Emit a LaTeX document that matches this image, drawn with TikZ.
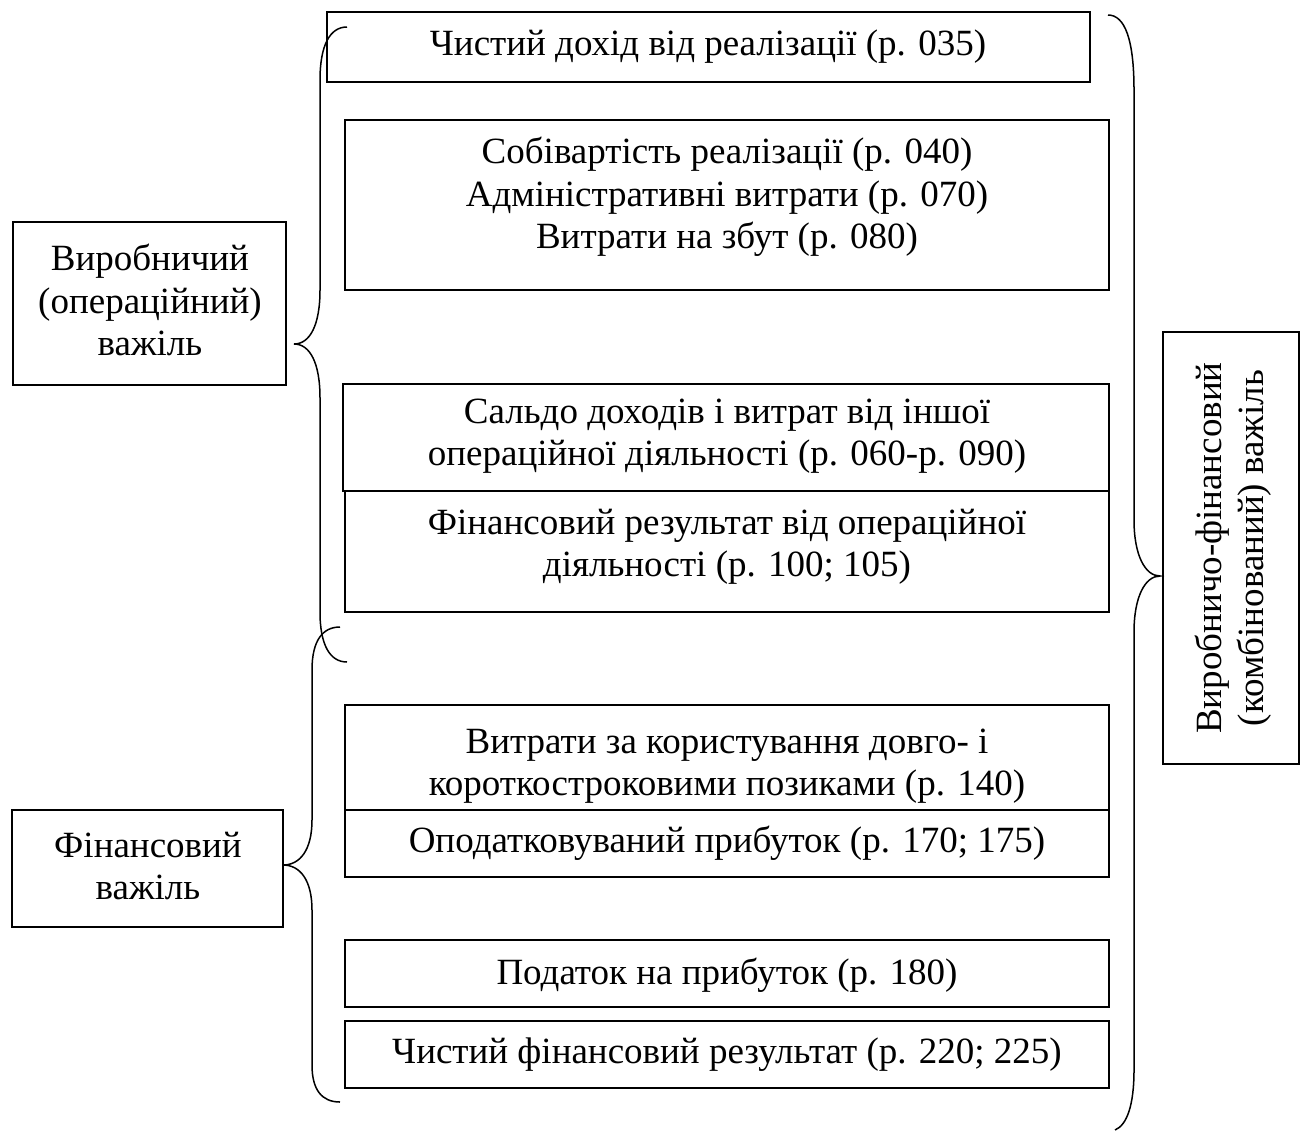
\documentclass[tikz,border=0pt]{standalone}
\usepackage{fontspec}
\setmainfont{Liberation Serif}
\begin{document}
\begin{tikzpicture}[x=1pt,y=-1pt,
  box/.style={draw=black,line width=1.5pt},
  brace/.style={draw=black,line width=1.5pt},
  txt/.style={inner sep=0pt,align=center,font=\fontsize{37}{42.5}\selectfont}]
\useasboundingbox (0,0) rectangle (1305,1133);
% boxes
\draw[box] (327,12) rectangle (1090,82);
\draw[box] (345,120) rectangle (1109,290);
\draw[box] (343,384) rectangle (1109,491);
\draw[box] (345,491) rectangle (1109,612);
\draw[box] (345,705) rectangle (1109,810);
\draw[box] (345,810) rectangle (1109,877);
\draw[box] (345,940) rectangle (1109,1007);
\draw[box] (345,1021) rectangle (1109,1088);
\draw[box] (13,222) rectangle (286,385);
\draw[box] (12,810) rectangle (283,927);
\draw[box] (1163,332) rectangle (1299,764);
% texts
\node[txt] (t1) at (708,47) {Чистий дохід від реалізації (р. 035)};
\node[txt] (t2) at (727,197) {Собівартість реалізації (р. 040)\\Адміністративні витрати (р. 070)\\Витрати на збут (р. 080)};
\node[txt] (t3) at (727,436) {Сальдо доходів і витрат від іншої\\операційної діяльності (р. 060-р. 090)};
\node[txt] (t4) at (727,547) {Фінансовий результат від операційної\\діяльності (р. 100; 105)};
\node[txt] (t5) at (727,766) {Витрати за користування довго- і\\короткостроковими позиками (р. 140)};
\node[txt] (t6) at (727,843) {Оподатковуваний прибуток (р. 170; 175)};
\node[txt] (t7) at (727,975) {Податок на прибуток (р. 180)};
\node[txt] (t8) at (727,1055) {Чистий фінансовий результат (р. 220; 225)};
\node[txt] (l1) at (150,300) {Виробничий\\(операційний)\\важіль};
\node[txt] (l2) at (148,866) {Фінансовий\\важіль};
\node[txt,rotate=90] (r1) at (1233,548) {Виробничо-фінансовий\\(комбінований) важіль};
% braces
\draw[brace] (347,27) .. controls (330,27) and (320,45) .. (320,80)
  -- (320,290) .. controls (320,325) and (310,344) .. (294,344)
  .. controls (310,344) and (320,363) .. (320,398)
  -- (320,612) .. controls (320,645) and (330,662) .. (347,662);
\draw[brace] (340,627) .. controls (323,627) and (312,640) .. (312,670)
  -- (312,820) .. controls (312,850) and (300,865) .. (283,865)
  .. controls (300,865) and (312,880) .. (312,910)
  -- (312,1065) .. controls (312,1090) and (322,1102) .. (340,1102);
\draw[brace] (1108,15) .. controls (1125,15) and (1134,40) .. (1134,90)
  -- (1134,520) .. controls (1134,555) and (1145,576) .. (1160,576)
  .. controls (1145,576) and (1134,597) .. (1134,632)
  -- (1134,1070) .. controls (1134,1105) and (1127,1125) .. (1115,1130);
\end{tikzpicture}
\end{document}
